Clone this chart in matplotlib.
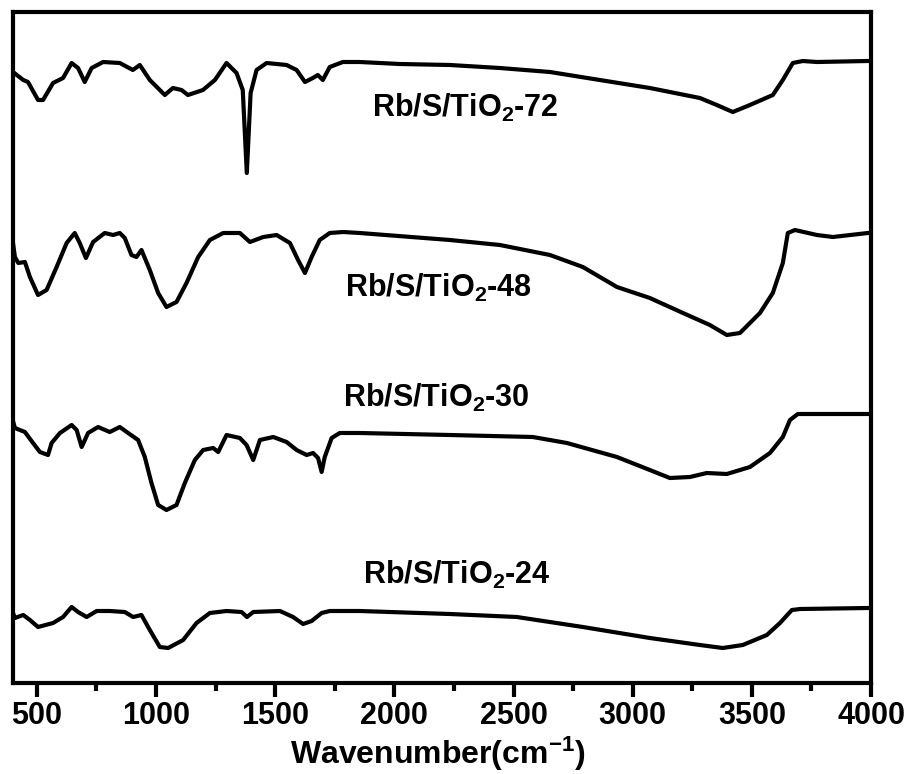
import matplotlib
matplotlib.use("Agg")
import matplotlib.pyplot as plt
from matplotlib.ticker import MultipleLocator

plt.rcParams['font.family'] = ['Liberation Sans', 'DejaVu Sans']
plt.rcParams['font.weight'] = 'bold'
plt.rcParams['mathtext.fontset'] = 'custom'
plt.rcParams['mathtext.rm'] = 'Liberation Sans:bold'
plt.rcParams['mathtext.it'] = 'Liberation Sans:bold'
plt.rcParams['mathtext.bf'] = 'Liberation Sans:bold'
plt.rcParams['mathtext.default'] = 'rm'

# ---- data (wavenumber in cm^-1, transmittance in arbitrary offset units) ----
wn_72 = [400, 443, 463, 505, 526, 568, 610, 646, 673, 701, 730, 778, 848, 903, 932,
         974, 1037, 1071, 1107, 1134, 1197, 1247, 1296, 1338, 1364, 1381, 1397, 1422,
         1464, 1548, 1590, 1625, 1658, 1679, 1700, 1729, 1784, 1855, 2023, 2233, 2443,
         2653, 2862, 3072, 3282, 3353, 3420, 3492, 3588, 3630, 3672, 3714, 3773, 3987, 4000]
t_72 = [611, 603, 601, 583, 583, 600, 605, 620, 615, 601, 615, 621, 620, 613, 618,
        603, 588, 595, 593, 588, 593, 603, 620, 610, 593, 510, 590, 613,
        620, 618, 613, 601, 605, 608, 603, 616, 621, 621, 619, 618, 615,
        611, 603, 595, 585, 578, 571, 578, 588, 603, 620, 622, 621, 622, 622]

wn_48 = [400, 408, 422, 450, 471, 505, 541, 583, 625, 659, 680, 706, 736, 785, 820,
         848, 869, 897, 918, 939, 974, 1009, 1044, 1086, 1128, 1177, 1226, 1282, 1352,
         1394, 1450, 1506, 1562, 1596, 1625, 1653, 1687, 1729, 1785, 1855, 2233, 2443,
         2653, 2791, 2934, 3072, 3211, 3324, 3395, 3450, 3534, 3588, 3630, 3651, 3681,
         3773, 3840, 3987, 4000]
t_48 = [440, 426, 420, 421, 406, 388, 393, 416, 440, 450, 440, 425, 441, 450, 448,
        450, 445, 428, 426, 433, 413, 390, 376, 381, 400, 426, 443, 450, 450,
        441, 446, 448, 440, 423, 410, 426, 443, 450, 451, 450, 443, 438,
        428, 416, 396, 385, 370, 358, 348, 350, 370, 390, 420, 450, 453,
        448, 446, 450, 450]

wn_30 = [400, 408, 450, 484, 513, 547, 562, 597, 646, 667, 688, 715, 757, 806, 848,
         883, 925, 953, 981, 1009, 1044, 1086, 1121, 1163, 1198, 1240, 1261, 1296,
         1352, 1380, 1408, 1436, 1492, 1548, 1590, 1632, 1659, 1680, 1695, 1708, 1737,
         1771, 1855, 2233, 2581, 2724, 2934, 3072, 3156, 3240, 3311, 3395, 3492, 3576,
         3630, 3660, 3693, 3987, 4000]
t_30 = [262, 255, 251, 240, 231, 228, 240, 250, 258, 253, 236, 250, 256, 251, 256,
        250, 243, 226, 200, 178, 173, 178, 200, 223, 233, 235, 231, 248,
        245, 238, 223, 243, 246, 241, 233, 228, 230, 225, 211, 226, 245,
        250, 250, 248, 246, 240, 226, 213, 205, 206, 210, 209, 216, 230,
        246, 263, 269, 269, 269]

wn_24 = [400, 408, 443, 471, 505, 568, 610, 646, 673, 709, 751, 806, 869, 904, 939,
         974, 1016, 1051, 1114, 1170, 1226, 1296, 1359, 1382, 1408, 1520, 1575, 1617,
         1653, 1695, 1729, 1855, 2233, 2514, 2791, 3072, 3282, 3378, 3462, 3563, 3618,
         3668, 3702, 3987, 4000]
t_24 = [70, 65, 68, 63, 56, 60, 66, 76, 71, 66, 72, 72, 71, 66, 68,
        53, 36, 35, 43, 60, 70, 72, 71, 66, 71, 72, 66, 59,
        62, 70, 72, 72, 69, 66, 56, 45, 38, 35, 38, 48, 60,
        73, 74, 75, 75]

labels = ['Rb/S/TiO$_2$-72', 'Rb/S/TiO$_2$-48', 'Rb/S/TiO$_2$-30', 'Rb/S/TiO$_2$-24']
label_x = [1906, 1792, 1784, 1868]
label_y = [566, 386, 276, 99]

xticks = [500, 1000, 1500, 2000, 2500, 3000, 3500, 4000]

# ---- figure ----
fig = plt.figure(figsize=(9.12, 7.74), dpi=100)
ax = fig.add_axes([13 / 912, 1 - 683 / 774, (871 - 13) / 912, (683 - 12) / 774])

for wn, t in [(wn_72, t_72), (wn_48, t_48), (wn_30, t_30), (wn_24, t_24)]:
    ax.plot(wn, t, color='black', lw=3.0, solid_joinstyle='round', solid_capstyle='round')

for lab, lx, ly in zip(labels, label_x, label_y):
    ax.text(lx, ly, lab, fontsize=22, fontweight='bold', ha='left', va='baseline')

ax.set_xlim(400, 4000)
ax.set_ylim(0, 671)
ax.set_xticks(xticks)
ax.set_xticklabels([str(v) for v in xticks])
ax.xaxis.set_minor_locator(MultipleLocator(250))
ax.set_yticks([])

for s in ax.spines.values():
    s.set_linewidth(3.0)

ax.tick_params(axis='x', which='major', direction='out', length=10, width=3,
               labelsize=22, pad=3, top=False)
ax.tick_params(axis='x', which='minor', direction='out', length=6, width=3, top=False)
for lbl in ax.get_xticklabels():
    lbl.set_fontweight('bold')

ax.set_xlabel('Wavenumber(cm$^{-1}$)', fontsize=23, fontweight='bold')
ax.xaxis.label.set_va('baseline')
ax.xaxis.set_label_coords(0.495, -0.1207)

fig.savefig('out.png', dpi=100)
